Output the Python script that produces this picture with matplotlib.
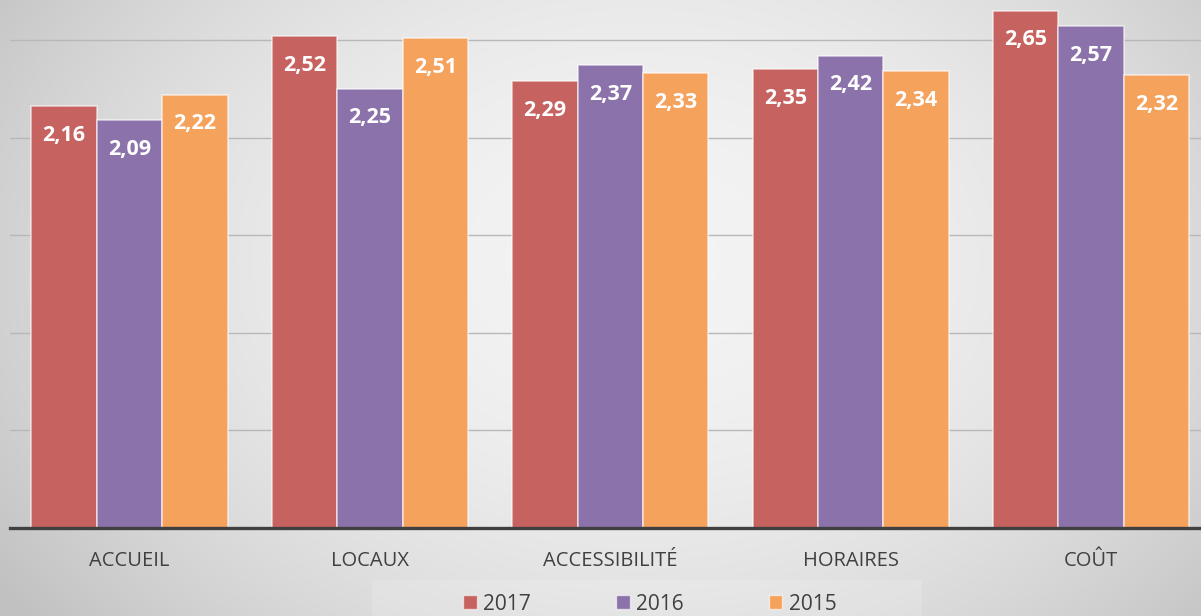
import numpy as np
import matplotlib.pyplot as plt
from matplotlib.patches import Patch, Rectangle

# data
categories = ['ACCUEIL', 'LOCAUX', 'ACCESSIBILITÉ', 'HORAIRES', 'COÛT']
series_names = ['2017', '2016', '2015']
values_2017 = [2.16, 2.52, 2.29, 2.35, 2.65]
values_2016 = [2.09, 2.25, 2.37, 2.42, 2.57]
values_2015 = [2.22, 2.51, 2.33, 2.34, 2.32]

colors = ['#C6625F', '#8C72AA', '#F5A25D']
plt.rcParams['font.family'] = ['Open Sans', 'DejaVu Sans']

W, H = 1201, 616
fig = plt.figure(figsize=(W / 100, H / 100), dpi=100)

# soft radial gradient background
bg = fig.add_axes([0, 0, 1, 1], zorder=-10)
yy, xx = np.mgrid[0:H, 0:W]
r = np.sqrt(((xx - 640) / 700.0) ** 2 + ((yy - 260) / 520.0) ** 2)
shade = np.clip(0.955 - 0.16 * r ** 2, 0.76, 1.0)
bg.imshow(np.dstack([shade] * 3), aspect='auto', extent=(0, W, H, 0))
bg.add_patch(Rectangle((372, 580), 550, 36, facecolor='white', alpha=0.15,
                       edgecolor='none'))
bg.set_xlim(0, W)
bg.set_ylim(H, 0)
bg.axis('off')

ax = fig.add_axes([10 / W, (H - 528) / H, 1 - 10 / W, 528 / H])
ax.patch.set_alpha(0)

x = np.arange(len(categories))
width = 0.272
all_values = [values_2017, values_2016, values_2015]
for i, (vals, col) in enumerate(zip(all_values, colors)):
    bars = ax.bar(x + (i - 1) * width, vals, width, color=col,
                  edgecolor=(1, 1, 1, 0.6), linewidth=1.2, zorder=3)
    for b, v in zip(bars, vals):
        ax.annotate(f'{v:.2f}'.replace('.', ','),
                    (b.get_x() + b.get_width() / 2, v),
                    xytext=(0, -21), textcoords='offset points',
                    ha='center', va='center', color='white',
                    fontsize=15.5, fontweight='bold', zorder=4)

ax.set_xlim(-0.497, 4.457)
ax.set_ylim(0, 2.705)
ax.set_yticks([0.5, 1.0, 1.5, 2.0, 2.5])
ax.yaxis.grid(True, color='#B8B8B8', linewidth=1.0, zorder=1)
ax.tick_params(axis='y', left=False, labelleft=False)
ax.tick_params(axis='x', bottom=False, pad=13, labelsize=14.5, labelcolor='#404040')
ax.set_xticks(x)
ax.set_xticklabels(categories)
for s in ['top', 'right', 'left']:
    ax.spines[s].set_visible(False)
ax.spines['bottom'].set_color('#404040')
ax.spines['bottom'].set_linewidth(2.4)
ax.spines['bottom'].set_zorder(5)

handles = [Patch(facecolor=c, edgecolor=(1, 1, 1, 0.6)) for c in colors]
leg = fig.legend(handles, series_names, loc='lower center', ncol=3,
                 bbox_to_anchor=(0.541, -0.025), frameon=False, fontsize=15,
                 handlelength=0.65, handleheight=0.65, handletextpad=0.3,
                 columnspacing=4.1, borderpad=0.3)
for t in leg.get_texts():
    t.set_color('#404040')

fig.savefig('out.png', dpi=100)
